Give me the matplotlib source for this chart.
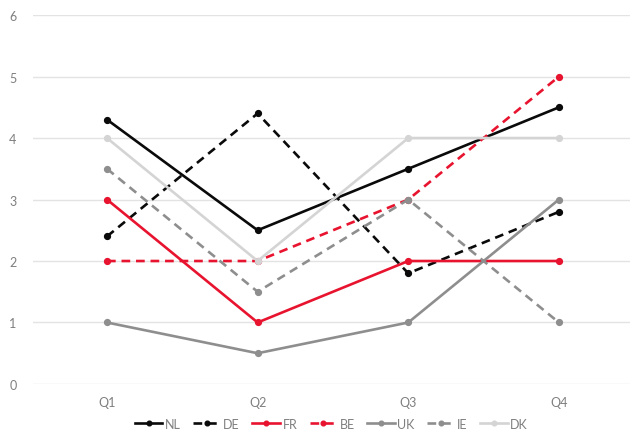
import matplotlib
matplotlib.use("Agg")
import matplotlib.pyplot as plt

quarters = ["Q1", "Q2", "Q3", "Q4"]
NL = [4.3, 2.5, 3.5, 4.5]
DE = [2.4, 4.4, 1.8, 2.8]
FR = [3, 1, 2, 2]
BE = [2, 2, 3, 5]
UK = [1, 0.5, 1, 3]
IE = [3.5, 1.5, 3, 1]
DK = [4, 2, 4, 4]
y_ticks = [0, 1, 2, 3, 4, 5, 6]

plt.rcParams['font.family'] = ['Lato', 'DejaVu Sans']

fig = plt.figure(figsize=(6.38, 4.35), dpi=100)
ax = fig.add_axes([0.052, 0.115, 0.935, 0.848])

black = "#0a0a0a"
red = "#e8142f"
gray = "#8e8e8e"
light = "#d4d4d4"

series = [
    ("NL", NL, black, "-"),
    ("DE", DE, black, "--"),
    ("FR", FR, red, "-"),
    ("BE", BE, red, "--"),
    ("UK", UK, gray, "-"),
    ("IE", IE, gray, "--"),
    ("DK", DK, light, "-"),
]
x = list(range(len(quarters)))
lw = 1.9
for name, vals, col, ls in series:
    line, = ax.plot(x, vals, color=col, lw=lw, marker="o", markersize=4.2,
                    label=name, linestyle=ls, zorder=3)
    if ls == "--":
        line.set_dashes((3.3, 2.2))

ax.set_xlim(-0.49, 3.47)
ax.set_ylim(0, 6)
ax.set_xticks(x)
ax.set_xticklabels(quarters)
ax.set_yticks(y_ticks)
ax.grid(axis="y", color="#e3e3e3", lw=1.0, zorder=0)
for s in ax.spines.values():
    s.set_visible(False)
ax.tick_params(length=0, colors="#7f7f7f", labelsize=9)
ax.tick_params(axis="y", pad=12)
ax.tick_params(axis="x", pad=9)

ax.legend(loc="center", bbox_to_anchor=(0.5, -0.108), ncol=7, frameon=False,
          fontsize=9, labelcolor="#7f7f7f", handlelength=2.2, handletextpad=0.2,
          columnspacing=1.0, markerscale=0.8, borderpad=0.1)

fig.savefig("out.png", dpi=100)
